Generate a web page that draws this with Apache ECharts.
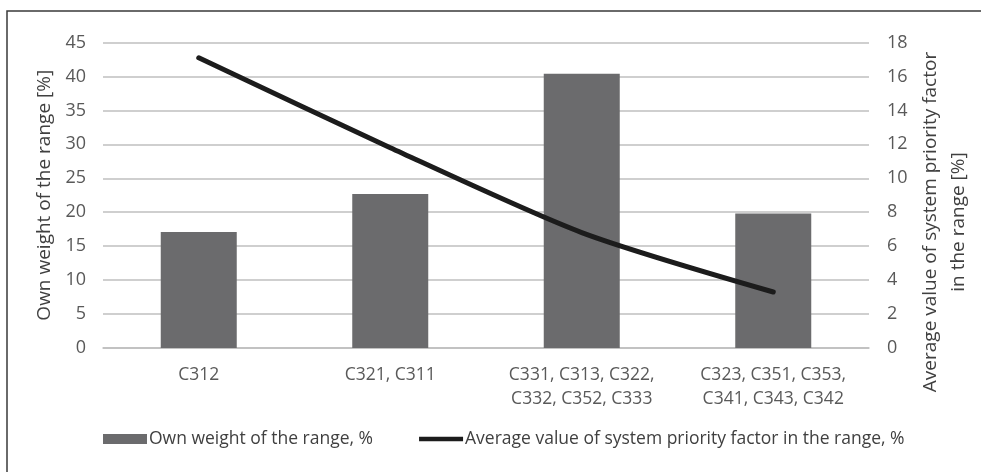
<!DOCTYPE html>
<html>
<head>
<meta charset="utf-8">
<script src="https://cdn.jsdelivr.net/npm/echarts@6/dist/echarts.min.js"></script>
<style>html,body{margin:0;padding:0;background:#fff}#c{width:981px;height:472px}</style>
</head>
<body>
<div id="c"></div>
<script>
var categories = ['C312', 'C321, C311', 'C331, C313, C322,\nC332, C352, C333', 'C323, C351, C353,\nC341, C343, C342'];
var ownWeight = [17.1, 22.7, 40.4, 19.8];
var avgPriority = [17.1, 11.8, 6.8, 3.3];
var barName = 'Own weight of the range, %';
var lineName = 'Average value of system priority factor in the range, %';
var leftTitle = 'Own weight of the range [%]';
var rightTitle = 'Average value of system priority factor\nin the range [%]';

var narrow = '"Open Sans", "Noto Sans", sans-serif';
var wide = '"Open Sans", "Noto Sans", sans-serif';

var chart = echarts.init(document.getElementById('c'), null, {renderer: 'canvas'});
chart.setOption({
  animation: false,
  backgroundColor: '#fff',
  graphic: [
    {type: 'rect', shape: {x: 7, y: 11, width: 1000, height: 500}, style: {fill: 'none', stroke: '#3a3a3a', lineWidth: 1.5}, silent: true, z: -10},
    {type: 'text', x: 945, y: 222, rotation: Math.PI / 2,
     style: {text: rightTitle, font: '19px ' + wide, fill: '#404040', align: 'center', verticalAlign: 'middle', lineHeight: 28}}
  ],
  grid: {left: 103, right: 112, top: 42.5, bottom: 124},
  legend: {
    left: 103, top: 430, padding: 0, itemGap: 46, itemWidth: 44, itemHeight: 10,
    textStyle: {fontFamily: narrow, fontSize: 17.5, color: '#404040', padding: [0, 0, 0, -3]},
    data: [
      {name: barName, icon: 'rect'},
      {name: lineName, icon: 'path://M0,0H46V4.5H0Z'}
    ]
  },
  xAxis: {
    type: 'category', data: categories,
    axisLine: {lineStyle: {color: '#bfbfbf', width: 1.5}},
    axisTick: {show: false},
    axisLabel: {fontFamily: narrow, fontSize: 17.5, color: '#595959', margin: 15, lineHeight: 24, interval: 0}
  },
  yAxis: [
    {
      type: 'value', min: 0, max: 45, interval: 5,
      name: leftTitle, nameLocation: 'middle', nameGap: 41, nameRotate: 90,
      nameTextStyle: {fontFamily: wide, fontSize: 19, color: '#404040'},
      axisLine: {show: false}, axisTick: {show: false},
      axisLabel: {fontFamily: narrow, fontSize: 18, color: '#595959', margin: 17},
      splitLine: {lineStyle: {color: '#bfbfbf', width: 1.5}}
    },
    {
      type: 'value', min: 0, max: 18, interval: 2, position: 'right',
      axisLine: {show: false}, axisTick: {show: false},
      axisLabel: {fontFamily: narrow, fontSize: 18, color: '#595959', margin: 18},
      splitLine: {show: false}
    }
  ],
  series: [
    {
      name: barName, type: 'bar', data: ownWeight, barWidth: 76,
      itemStyle: {color: '#6b6b6d'}, yAxisIndex: 0
    },
    {
      name: lineName, type: 'line', data: avgPriority, yAxisIndex: 1,
      smooth: 0.25, symbol: 'none', showSymbol: false,
      lineStyle: {color: '#1c1c1c', width: 5, cap: 'round', join: 'round'},
      itemStyle: {color: '#1c1c1c'}, z: 5
    }
  ]
});
</script>
</body>
</html>
